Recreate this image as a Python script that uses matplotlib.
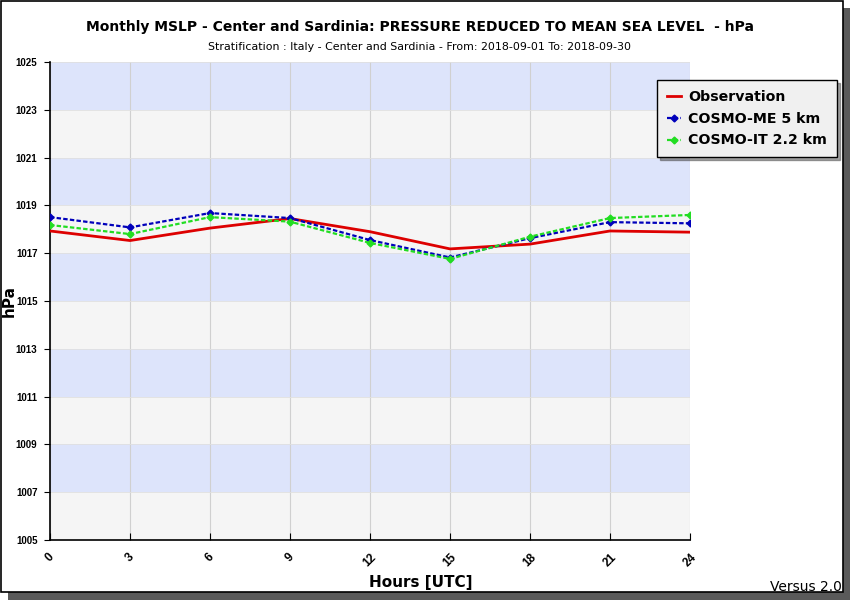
import matplotlib
matplotlib.use('Agg')
import matplotlib.pyplot as plt
from matplotlib.patches import Rectangle

# data
hours = [0, 3, 6, 9, 12, 15, 18, 21, 24]
obs = [1017.93, 1017.53, 1018.05, 1018.45, 1017.9, 1017.18, 1017.38, 1017.93, 1017.88]
cosmo_me = [1018.51, 1018.08, 1018.68, 1018.47, 1017.55, 1016.82, 1017.63, 1018.3, 1018.25]
cosmo_it = [1018.18, 1017.8, 1018.51, 1018.32, 1017.43, 1016.76, 1017.69, 1018.47, 1018.6]
yticks = list(range(1005, 1026, 2))

tickfont = ['Liberation Sans', 'DejaVu Sans']

fig = plt.figure(figsize=(8.5, 6), dpi=100)
fig.patch.set_facecolor('white')

# frame with drop shadow
fig.patches.append(Rectangle((8/850, 0), 1 - 8/850, 1 - 8/600, transform=fig.transFigure,
                             facecolor='#5a5a5a', edgecolor='none', zorder=-2))
fig.patches.append(Rectangle((0.5/850, 8/600), 842/850, 1 - 8.5/600, transform=fig.transFigure,
                             facecolor='white', edgecolor='black', linewidth=1.2, zorder=-1))

ax = fig.add_axes([50/850, 1 - 540/600, 640/850, 478/600])
ax.set_zorder(1)
ax.set_facecolor('#f5f5f5')

# alternating bands
for i, lo in enumerate(yticks[:-1]):
    if i % 2 == 1:
        ax.axhspan(lo, lo + 2, color='#dde4fb', zorder=0, linewidth=0)
for h in hours:
    ax.axvline(h, color='#d0d0d0', linewidth=0.8, zorder=1)
for y in yticks:
    ax.axhline(y, color='#e0e0e0', linewidth=0.6, zorder=1)

ax.plot(hours, obs, color='#dd0000', linewidth=2, label='Observation', zorder=3)
ax.plot(hours, cosmo_me, color='#0000bb', linestyle=(0, (2, 1)), linewidth=1.6,
        marker='D', markersize=3.5, label='COSMO-ME 5 km', zorder=4)
ax.plot(hours, cosmo_it, color='#22dd22', linestyle=(0, (2, 1)), linewidth=1.6,
        marker='D', markersize=3.5, label='COSMO-IT 2.2 km', zorder=4)

ax.set_xlim(0, 24)
ax.set_ylim(1005, 1025)
ax.set_xticks(hours)
ax.set_yticks(yticks)
ax.set_xticklabels([str(h) for h in hours], rotation=45, fontsize=8.5, fontweight='bold',
                   family=tickfont)
ax.set_yticklabels([str(y) for y in yticks], fontsize=7, fontweight='bold', family=tickfont)
ax.tick_params(axis='x', direction='in', length=5, pad=8)
ax.tick_params(axis='y', direction='out', length=4, pad=5)
for s in ['top', 'right']:
    ax.spines[s].set_visible(False)
for s in ['left', 'bottom']:
    ax.spines[s].set_linewidth(1.2)

ax.set_ylabel('hPa', fontsize=11, fontweight='bold', va='center')
ax.yaxis.set_label_coords(-41/640, 0.5)
ax.set_xlabel('Hours [UTC]', fontsize=11, fontweight='bold', va='center')
ax.xaxis.set_label_coords(371/640, -42/478)

fig.text(420/850, 1 - 27/600,
         'Monthly MSLP - Center and Sardinia: PRESSURE REDUCED TO MEAN SEA LEVEL  - hPa',
         ha='center', va='center', fontsize=10, fontweight='bold')
fig.text(419/850, 1 - 47/600,
         'Stratification : Italy - Center and Sardinia - From: 2018-09-01 To: 2018-09-30',
         ha='center', va='center', fontsize=7.9)
fig.text(842/850, 1 - 587/600, 'Versus 2.0', ha='right', va='center', fontsize=10)

leg = fig.legend(loc='upper left', bbox_to_anchor=(657/850, 1 - 80/600),
                 fontsize=10.2, frameon=True, shadow=True, fancybox=False,
                 handlelength=1.0, handletextpad=0.5, borderpad=0.7, labelspacing=0.55,
                 borderaxespad=0)
leg.set_zorder(5)
leg.get_frame().set_facecolor('#f0f0f0')
leg.get_frame().set_edgecolor('black')
leg.get_frame().set_alpha(1)
for t in leg.get_texts():
    t.set_fontweight('bold')

fig.savefig('out.png', dpi=100)
